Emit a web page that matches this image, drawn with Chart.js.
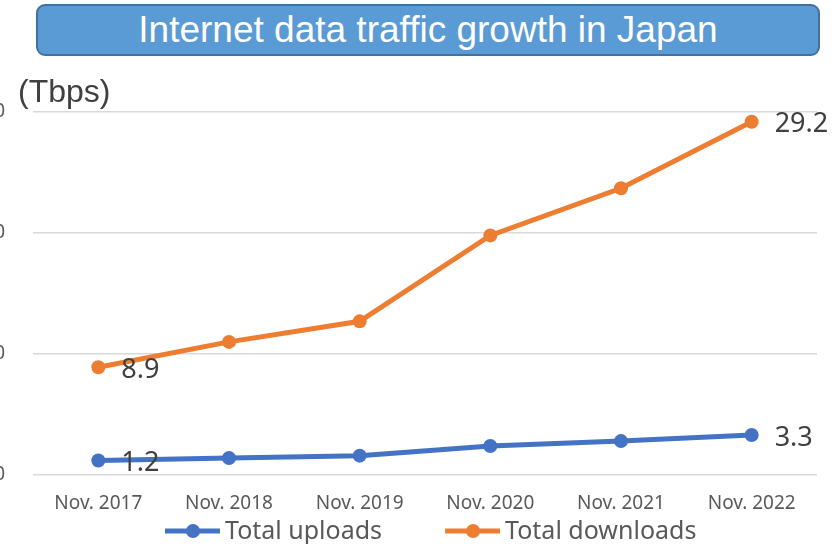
<!DOCTYPE html>
<html>
<head>
<meta charset="utf-8">
<script src="https://cdn.jsdelivr.net/npm/chart.js@4.4.1/dist/chart.umd.min.js"></script>
<style>
  html, body { margin: 0; padding: 0; background: #fff; }
  body { width: 838px; height: 544px; overflow: hidden; position: relative; }
  #wrap { position: absolute; left: -40px; top: 0; width: 878px; height: 544px; }
  #title {
    position: absolute; left: 36px; top: 4px; width: 784px; height: 52px;
    box-sizing: border-box; border: 2px solid #41719C; border-radius: 9px;
    background: #5B9BD5; color: #fff; text-align: center;
    font: 37px "Liberation Sans", Arial, sans-serif; line-height: 48px;
  }
  #unit {
    position: absolute; left: 18px; top: 73px; color: #404040;
    font: 32px "Liberation Sans", Arial, sans-serif;
  }
</style>
</head>
<body>
<div id="wrap"><canvas id="chart_traffic" width="878" height="544"></canvas></div>
<div id="title">Internet data traffic growth in Japan</div>
<div id="unit">(Tbps)</div>
<script>
const categories = ['Nov. 2017', 'Nov. 2018', 'Nov. 2019', 'Nov. 2020', 'Nov. 2021', 'Nov. 2022'];
const uploads = [1.2, 1.4, 1.6, 2.4, 2.8, 3.3];
const downloads = [8.9, 11.0, 12.7, 19.8, 23.7, 29.2];
const yTicks = [0, 10, 20, 30];

const BLUE = '#4472C4';
const ORANGE = '#ED7D31';

// labels only on first and last point, to the right
const endLabels = {
  id: 'endLabels',
  afterDatasetsDraw(chart) {
    const ctx = chart.ctx;
    ctx.save();
    ctx.font = '27px "Noto Sans"';
    ctx.fillStyle = '#404040';
    ctx.textAlign = 'left';
    ctx.textBaseline = 'middle';
    chart.data.datasets.forEach((ds, i) => {
      const meta = chart.getDatasetMeta(i);
      [0, ds.data.length - 1].forEach(idx => {
        const pt = meta.data[idx];
        ctx.fillText(ds.data[idx].toFixed(1), pt.x + 23, pt.y + 3);
      });
    });
    ctx.restore();
  }
};

// excel style legend: line with marker, then text
const lineLegend = {
  id: 'lineLegend',
  afterDraw(chart) {
    const ctx = chart.ctx;
    ctx.save();
    ctx.font = '25px "Noto Sans"';
    ctx.textBaseline = 'middle';
    let x = 205;
    const y = 531;
    chart.data.datasets.forEach(ds => {
      ctx.strokeStyle = ds.borderColor;
      ctx.lineWidth = 5;
      ctx.beginPath();
      ctx.moveTo(x, y);
      ctx.lineTo(x + 55, y);
      ctx.stroke();
      ctx.fillStyle = ds.borderColor;
      ctx.beginPath();
      ctx.arc(x + 28, y, 7, 0, Math.PI * 2);
      ctx.fill();
      ctx.fillStyle = '#595959';
      ctx.fillText(ds.label, x + 60, y + 1);
      x += 60 + ctx.measureText(ds.label).width + 63;
    });
    ctx.restore();
  }
};

new Chart(document.getElementById('chart_traffic'), {
  type: 'line',
  data: {
    labels: categories,
    datasets: [
      { label: 'Total uploads', data: uploads, borderColor: BLUE, backgroundColor: BLUE },
      { label: 'Total downloads', data: downloads, borderColor: ORANGE, backgroundColor: ORANGE }
    ]
  },
  options: {
    responsive: false,
    animation: false,
    layout: { padding: { top: 112, right: 21, bottom: 0, left: 0 } },
    elements: {
      line: { borderWidth: 5, tension: 0 },
      point: { radius: 7, hoverRadius: 7, borderWidth: 0 }
    },
    plugins: {
      legend: { display: false },
      tooltip: { enabled: false }
    },
    scales: {
      x: {
        offset: true,
        grid: { display: false },
        border: { display: false },
        ticks: { color: '#595959', font: { family: 'Noto Sans', size: 19 }, padding: 9, maxRotation: 0 },
        afterFit(s) { s.height = 69; }
      },
      y: {
        min: 0,
        max: 30,
        afterBuildTicks(s) { s.ticks = yTicks.map(v => ({ value: v })); },
        grid: { color: '#d9d9d9', lineWidth: 1.5, drawTicks: false },
        border: { display: false },
        ticks: { color: '#595959', font: { family: 'Noto Sans', size: 19 }, padding: 28 },
        afterFit(s) { s.width = 73; }
      }
    }
  },
  plugins: [endLabels, lineLegend]
});
</script>
</body>
</html>
